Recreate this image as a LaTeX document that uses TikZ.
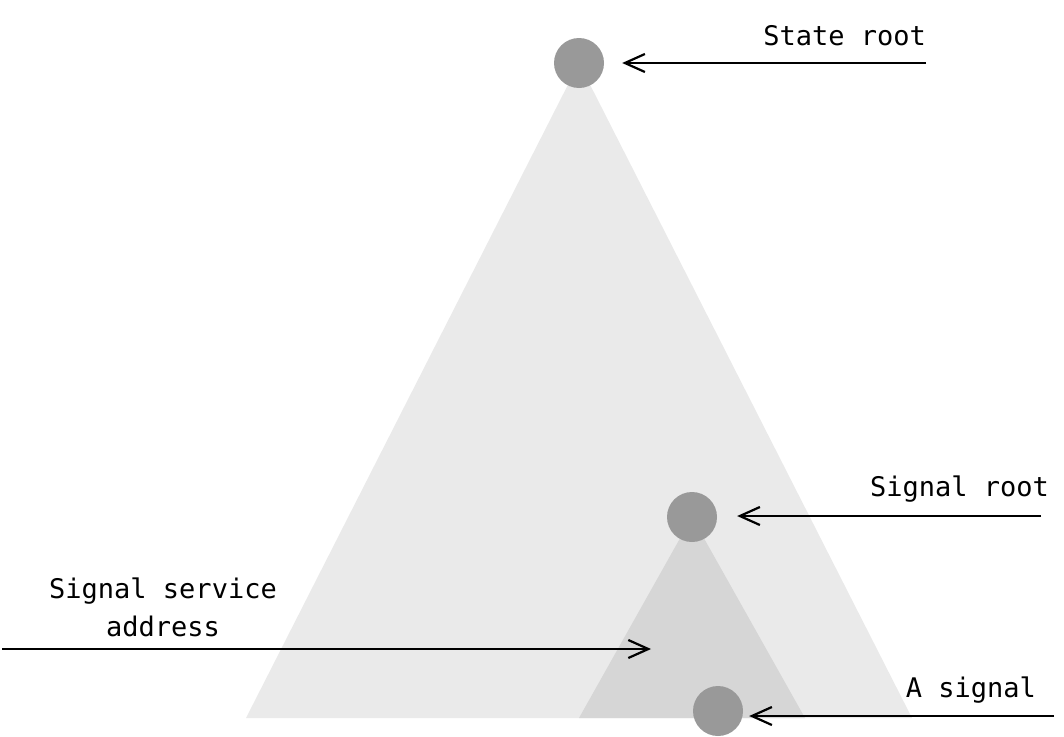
\documentclass[tikz,border=0pt]{standalone}
\usepackage{fontspec}
\setmonofont{DejaVu Sans Mono}
\usetikzlibrary{arrows.meta}
\definecolor{bigtri}{HTML}{EAEAEA}
\definecolor{smalltri}{HTML}{D6D6D6}
\definecolor{dotgray}{HTML}{999999}
\tikzset{
  hashdot/.style={circle, fill=dotgray, minimum size=50pt, inner sep=0pt},
  txt/.style={font=\ttfamily\fontsize{27}{38}\selectfont, inner sep=0pt},
  pointer/.style={-{Straight Barb[length=20pt,width=18pt]}, line width=2.2pt}
}
\begin{document}
\begin{tikzpicture}[x=1pt, y=-1pt]
\useasboundingbox (0,0) rectangle (1064,736);
\coordinate (statetop) at (579,63);
\coordinate (signaltop) at (692,517);
\fill[bigtri] (statetop) -- (246,718) -- (912,718) -- cycle;
\fill[smalltri] (signaltop) -- (579,718) -- (805,718) -- cycle;
\node[hashdot] (stateroot) at (statetop){};
\node[hashdot] (signalroot) at (signaltop){};
\node[hashdot] (asignal) at (718,711){};
\node[txt, anchor=east] (lstate) at (926,36){State root};
\node[txt, anchor=east] (lsignal) at (1049,489){Signal root};
\node[txt, anchor=east] (lone) at (1036,690){A signal};
\node[txt, align=center] (laddr) at (163,607){Signal service\\address};
\coordinate (tstate) at (926,63);
\coordinate (tsignal) at (1041,516);
\coordinate (tone) at (1054,716);
\coordinate (taddr) at (2,649);
\coordinate (haddr) at (651,649);
\draw[pointer, shorten >=18pt] (tstate) -- (tstate -| stateroot.east);
\draw[pointer, shorten >=20pt] (tsignal) -- (tsignal -| signalroot.east);
\draw[pointer, shorten >=6pt] (tone) -- (tone -| asignal.east);
\draw[pointer] (taddr) -- (haddr);
\end{tikzpicture}
\end{document}
